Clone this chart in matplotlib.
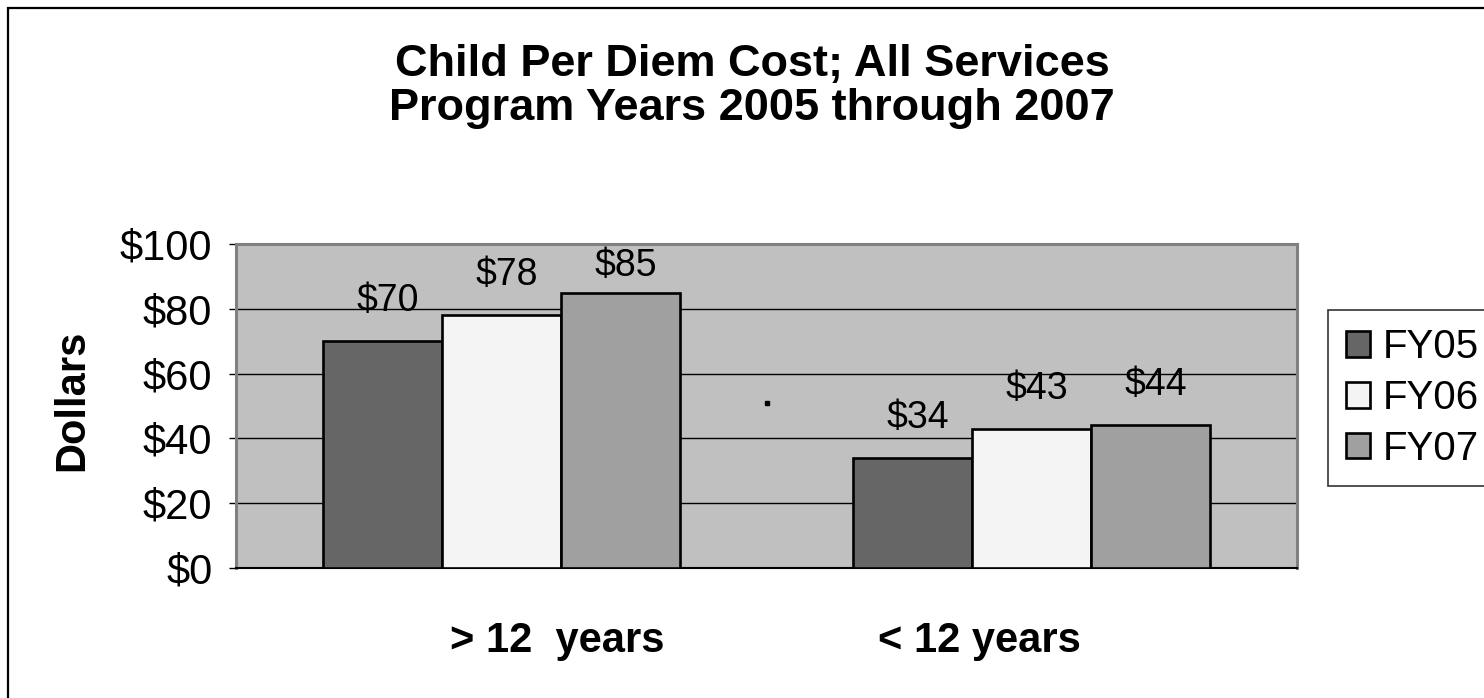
import matplotlib
matplotlib.use("Agg")
import matplotlib.pyplot as plt
from matplotlib.patches import Rectangle
import numpy as np

plt.rcParams['font.family'] = ['Liberation Sans', 'DejaVu Sans']

# ---- data ----
categories = ["> 12  years", "< 12 years"]
series_names = ["FY05", "FY06", "FY07"]
fy05 = [70, 34]
fy06 = [78, 43]
fy07 = [85, 44]
value_labels = [["$70", "$34"], ["$78", "$43"], ["$85", "$44"]]
yticks = [0, 20, 40, 60, 80, 100]
ytick_labels = ["$0", "$20", "$40", "$60", "$80", "$100"]
stray_point_x = [0.5]
stray_point_y = [51]

colors = ["#666666", "#F4F4F4", "#A0A0A0"]

W, H = 1484, 698
fig = plt.figure(figsize=(W / 100, H / 100), dpi=100)
fig.patch.set_facecolor("white")

ax = fig.add_axes([236 / W, 1 - 568 / H, (1297 - 236) / W, (568 - 244) / H])
ax.set_facecolor("#C0C0C0")

x = np.arange(len(categories))
bw = 0.2245
for i, (vals, col) in enumerate(zip([fy05, fy06, fy07], colors)):
    xs = x + (i - 1) * bw
    ax.bar(xs, vals, width=bw, color=col, edgecolor="black", linewidth=1.9,
           label=series_names[i], zorder=3)
    for xi, v, lab in zip(xs, vals, value_labels[i]):
        ax.text(xi + 0.01, min(v + 9.3, 90.0), lab, ha="center", va="baseline",
                fontsize=27, color="black", zorder=4)

ax.plot(stray_point_x, stray_point_y, "s", color="black", ms=3, zorder=4)

ax.set_xlim(-0.5, 1.5)
ax.set_ylim(0, 100)
ax.set_yticks(yticks)
ax.set_yticklabels(ytick_labels, fontsize=30)
ax.tick_params(axis="y", direction="out", length=5, width=1, color="black", pad=12)
ax.yaxis.grid(True, color="black", linewidth=1.0, zorder=1)
ax.set_axisbelow(True)

# category labels (offset as in the original)
ax.set_xticks([0.105, 0.902])
ax.set_xticklabels(categories, fontsize=30, fontweight="bold")
ax.tick_params(axis="x", length=0, pad=38)

for s in ["top", "right", "left"]:
    ax.spines[s].set_color("#808080")
    ax.spines[s].set_linewidth(2.2)
ax.spines["bottom"].set_color("black")
ax.spines["bottom"].set_linewidth(1.5)

fig.text(72 / W, 1 - 400 / H, "Dollars", rotation=90, ha="center", va="center",
         fontsize=30, fontweight="bold")

fig.text(752 / W, 1 - 76 / H, "Child Per Diem Cost; All Services", ha="center",
         va="baseline", fontsize=32.5, fontweight="bold")
fig.text(752 / W, 1 - 120 / H, "Program Years 2005 through 2007", ha="center",
         va="baseline", fontsize=32.5, fontweight="bold")

leg = fig.legend(loc="upper left", bbox_to_anchor=(1328 / W, 1 - 310 / H),
                 bbox_transform=fig.transFigure, fontsize=29, frameon=True,
                 fancybox=False, edgecolor="black", borderaxespad=0,
                 handlelength=0.6, handleheight=0.6, handletextpad=0.3,
                 labelspacing=0.32, borderpad=0.45)
leg.get_frame().set_linewidth(1.2)

fig.patches.append(Rectangle((8 / W, -0.1), 1.2, (1 - 8 / H) + 0.1,
                             transform=fig.transFigure, fill=False,
                             edgecolor="black", linewidth=1.6, clip_on=False))

fig.savefig("out.png", dpi=100, facecolor="white")
